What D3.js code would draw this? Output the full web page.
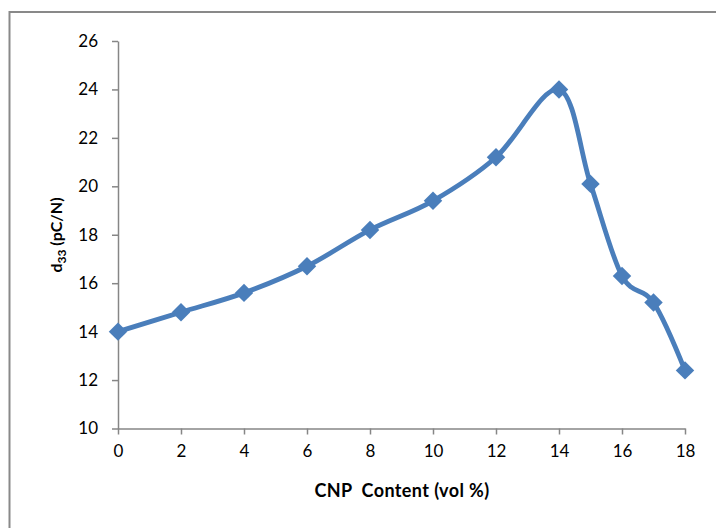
<!DOCTYPE html>
<html>
<head>
<meta charset="utf-8">
<script src="https://cdn.jsdelivr.net/npm/d3@7"></script>
<style>
  body { margin: 0; background: #fff; }
  svg { display: block; font-family: Lato, "Open Sans", sans-serif; }
</style>
</head>
<body>
<div id="chart"></div>
<script>
// CNP content (vol %) and measured d33 (pC/N)
var content = [0, 2, 4, 6, 8, 10, 12, 14, 15, 16, 17, 18];
var d33 = [14, 14.8, 15.6, 16.7, 18.2, 19.4, 21.2, 24, 20.1, 16.3, 15.2, 12.4];
var xTicks = [0, 2, 4, 6, 8, 10, 12, 14, 16, 18];
var yTicks = [10, 12, 14, 16, 18, 20, 22, 24, 26];

var width = 716, height = 528;
var plot = { left: 118, right: 685, top: 41, bottom: 428.5 };
var axisColor = "#868686", lineColor = "#4A7EBB";

var svg = d3.select("#chart").append("svg")
    .attr("width", width)
    .attr("height", height);

// chart frame (runs off the picture on the right and bottom)
svg.append("path")
    .attr("d", "M9.5," + (height + 5) + "V12H" + (width + 5))
    .attr("fill", "none")
    .attr("stroke", "#898989")
    .attr("stroke-width", 2);

var x = d3.scaleLinear().domain([0, 18]).range([plot.left, plot.right]);
var y = d3.scaleLinear().domain([10, 26]).range([plot.bottom, plot.top]);

var yAxis = svg.append("g")
    .attr("transform", "translate(" + plot.left + ",0)")
    .call(d3.axisLeft(y).tickValues(yTicks).tickSize(6).tickPadding(14).tickSizeOuter(0));

var xAxis = svg.append("g")
    .attr("transform", "translate(0," + plot.bottom + ")")
    .call(d3.axisBottom(x).tickValues(xTicks).tickSize(6).tickPadding(10).tickSizeOuter(0));

[xAxis, yAxis].forEach(function (g) {
    g.select(".domain").attr("stroke", axisColor).attr("stroke-width", 1.5);
    g.selectAll(".tick line").attr("stroke", axisColor).attr("stroke-width", 1.5);
    g.selectAll(".tick text")
        .attr("fill", "#000")
        .style("font-size", "17px")
        .style("font-family", "Lato, 'Open Sans', sans-serif");
});

// smoothed line like the spreadsheet's "smoothed line" option
var line = d3.line()
    .x(function (d) { return x(d[0]); })
    .y(function (d) { return y(d[1]); })
    .curve(d3.curveCardinal.tension(0));

var points = content.map(function (c, i) { return [c, d33[i]]; });

svg.append("path")
    .attr("d", line(points))
    .attr("fill", "none")
    .attr("stroke", lineColor)
    .attr("stroke-width", 4.8)
    .attr("stroke-linejoin", "round");

var diamond = d3.symbol().type(d3.symbolSquare).size(170);
svg.append("g").selectAll("path")
    .data(points)
    .join("path")
    .attr("d", diamond)
    .attr("transform", function (d) {
        return "translate(" + x(d[0]) + "," + y(d[1]) + ") rotate(45)";
    })
    .attr("fill", lineColor);

// axis titles
var yTitle = svg.append("text")
    .attr("transform", "translate(62,235) rotate(-90)")
    .attr("text-anchor", "middle")
    .style("font-size", "16px")
    .style("font-weight", "bold");
yTitle.append("tspan").text("d");
yTitle.append("tspan").attr("dy", 4).style("font-size", "12px").text("33");
yTitle.append("tspan").attr("dy", -4).text(" (pC/N)");

svg.append("text")
    .attr("x", 402)
    .attr("y", 497)
    .attr("text-anchor", "middle")
    .style("font-size", "18px")
    .style("font-weight", "bold")
    .style("letter-spacing", "0.4px")
    .style("white-space", "pre")
    .text("CNP  Content (vol %)");
</script>
</body>
</html>
